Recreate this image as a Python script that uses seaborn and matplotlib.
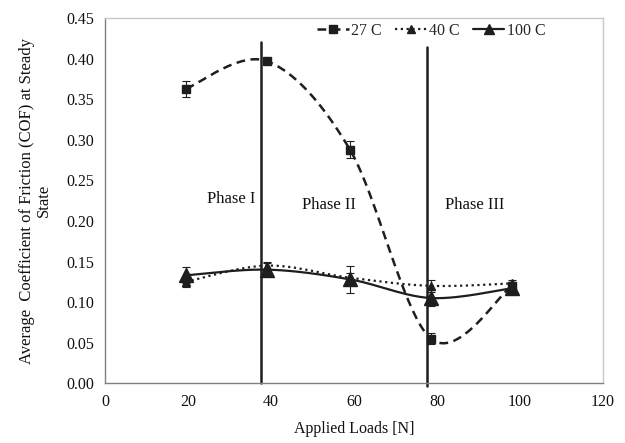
import numpy as np
import matplotlib
matplotlib.use("Agg")
import matplotlib.pyplot as plt
from matplotlib.lines import Line2D
import seaborn as sns

# ---- data ----
loads = [19.5, 39, 59, 78.5, 98]
cof_27 = [0.363, 0.397, 0.288, 0.055, 0.120]
err_27 = [0.010, 0.003, 0.010, 0.007, 0.005]
cof_40 = [0.125, 0.145, 0.130, 0.120, 0.123]
err_40 = [0.006, 0.005, 0.006, 0.007, 0.004]
cof_100 = [0.133, 0.140, 0.128, 0.105, 0.117]
err_100 = [0.010, 0.008, 0.017, 0.010, 0.006]
series_names = ["27 C", "40 C", "100 C"]
phase_bounds = [37.5, 77.5]
phase_labels = ["Phase I", "Phase II", "Phase III"]
phase_pos = [(30.5, 0.227), (54, 0.22), (89, 0.22)]

sns.set_style("white")
plt.rcParams['font.family'] = ['Liberation Serif', 'DejaVu Serif']

FS = 11.5


def smooth(x, y, n=40):
    x = np.asarray(x, float); y = np.asarray(y, float)
    P = np.column_stack([x, y])
    P = np.vstack([P[0], P, P[-1]])
    out = []
    for i in range(1, len(P) - 2):
        p0, p1, p2, p3 = P[i - 1], P[i], P[i + 1], P[i + 2]
        c1 = p1 + (p2 - p0) / 6.0
        c2 = p2 - (p3 - p1) / 6.0
        t = np.linspace(0, 1, n)[:, None]
        b = ((1 - t) ** 3) * p1 + 3 * ((1 - t) ** 2) * t * c1 + 3 * (1 - t) * t ** 2 * c2 + t ** 3 * p2
        out.append(b if i == 1 else b[1:])
    B = np.vstack(out)
    return B[:, 0], B[:, 1]


fig = plt.figure(figsize=(6.25, 4.43), dpi=100)
ax = fig.add_axes([0.168, 0.135, 0.797, 0.824])

col = "#1e1e1e"
styles = [
    dict(ls=(0, (3.5, 2.2)), marker="s", ms=5.5, lw=1.8),
    dict(ls=(0, (1, 1.6)), marker="^", ms=6, lw=1.6),
    dict(ls="-", marker="^", ms=9.5, lw=1.6),
]
data = [(cof_27, err_27), (cof_40, err_40), (cof_100, err_100)]

for (vals, errs), st in zip(data, styles):
    sx, sy = smooth(loads, vals)
    sns.lineplot(x=sx, y=sy, ax=ax, color=col, linestyle=st["ls"], lw=st["lw"],
                 sort=False, estimator=None, legend=False)
    ax.errorbar(loads, vals, yerr=errs, fmt="none", ecolor=col, elinewidth=0.8,
                capsize=3, capthick=0.8, zorder=3)
    ax.plot(loads, vals, ls="none", marker=st["marker"], ms=st["ms"], color=col, zorder=4)

for xb, top in zip(phase_bounds, [0.421, 0.414]):
    ax.plot([xb, xb], [-0.004 if xb > 50 else 0, top], color=col, lw=1.8, clip_on=False, zorder=2)

for lab, (px, py) in zip(phase_labels, phase_pos):
    ax.text(px, py, lab, ha="center", va="center", fontsize=12, color="#111")

ax.set_xlim(0, 120)
ax.set_ylim(0, 0.45)
ax.set_xticks(np.arange(0, 121, 20))
ax.set_yticks(np.arange(0, 0.451, 0.05))
ax.set_yticklabels([f"{v:.2f}" for v in np.arange(0, 0.451, 0.05)])
ax.tick_params(axis="both", direction="out", length=4, width=0.8, color="#888888",
               labelsize=FS, labelcolor="#111")
for s in ["left", "bottom"]:
    ax.spines[s].set_color("#808080"); ax.spines[s].set_linewidth(1.0)
for s in ["top", "right"]:
    ax.spines[s].set_color("#c8c8c8"); ax.spines[s].set_linewidth(1.0)

ax.set_xlabel("Applied Loads [N]", fontsize=FS, color="#111", labelpad=8)
ax.set_ylabel("Average  Coefficient of Friction (COF) at Steady\nState", fontsize=12,
              color="#111", labelpad=11, linespacing=1.05)

handles = [Line2D([], [], color=col, linestyle=st["ls"], lw=st["lw"], marker=st["marker"],
                  ms=st["ms"] * (0.8 if i == 2 else 1.0)) for i, st in enumerate(styles)]
ax.legend(handles, series_names, loc="center", bbox_to_anchor=(0.655, 0.966), ncol=3,
          frameon=False, fontsize=FS, handlelength=2.0, columnspacing=0.8, handletextpad=0.15)

fig.savefig("out.png", dpi=100)
